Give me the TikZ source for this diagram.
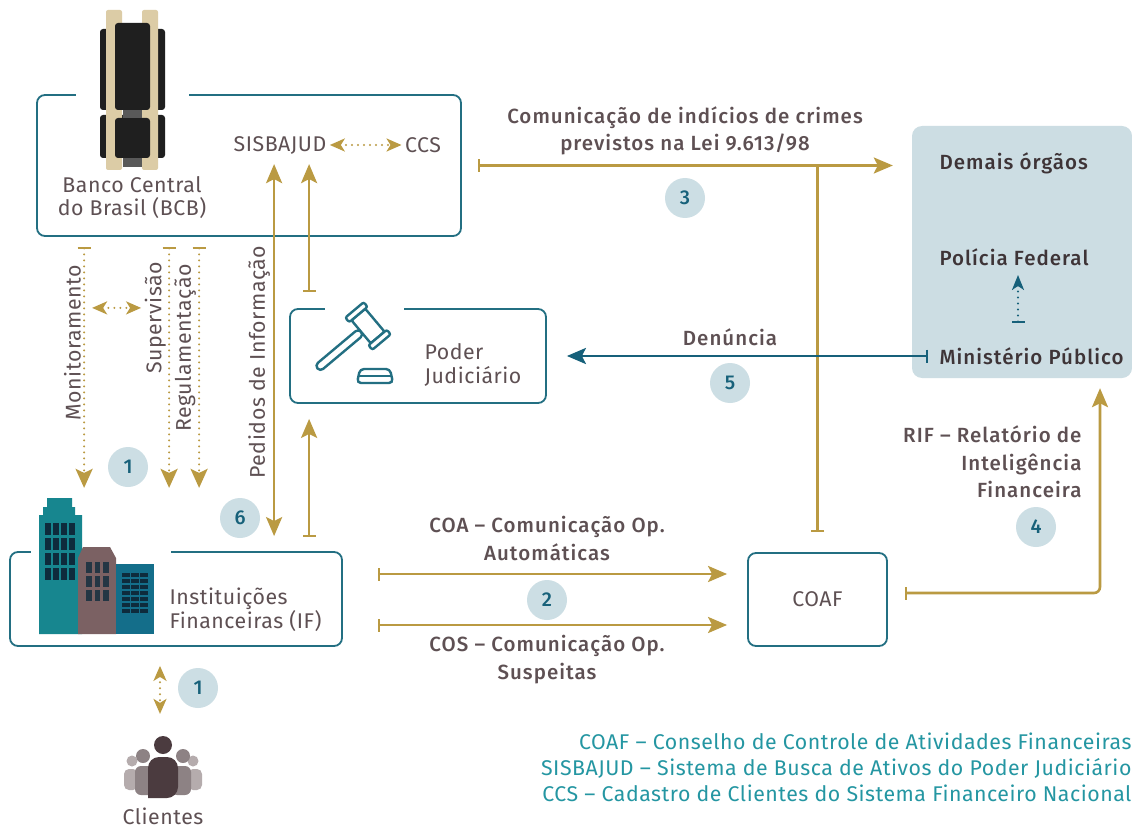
\documentclass[tikz,border=0pt]{standalone}
\usepackage{fontspec}
\setmainfont{Fira Sans}[LetterSpace=2.5, BoldFont={Fira Sans Medium}, BoldFeatures={LetterSpace=5}]
\usetikzlibrary{arrows.meta}
\usetikzlibrary{calc}

\definecolor{gold}{HTML}{BA9A42}
\definecolor{boxteal}{HTML}{236F82}
\definecolor{txt}{HTML}{5E5053}
\definecolor{dark}{HTML}{3E3437}
\definecolor{badgebg}{HTML}{CCDEE4}
\definecolor{badgefg}{HTML}{17617A}
\definecolor{panel}{HTML}{CCDDE3}
\definecolor{legend}{HTML}{2496A2}
\definecolor{arrowteal}{HTML}{16607A}
\definecolor{tanbar}{HTML}{DCCCA6}
\definecolor{towerteal}{HTML}{17868F}
\definecolor{towerbrown}{HTML}{7B6163}
\definecolor{towerblue}{HTML}{146E8A}
\definecolor{window}{HTML}{0E2B3C}
\definecolor{pdark}{HTML}{4B3B3F}
\definecolor{pmid}{HTML}{8D8284}
\definecolor{plight}{HTML}{B5ACAD}

\newcommand\regfont{\fontsize{21.3}{23.5}\selectfont}
\newcommand\labfont{\bfseries\fontsize{20.5}{27.5}\selectfont}

\tikzset{
  box/.style={draw=boxteal, line width=1.8pt, rounded corners=8pt, fill=white, inner sep=0pt},
  flow/.style={draw=gold, line width=2.6pt,
    arrows={Bar[width=13pt,line width=2pt]-Stealth[length=19pt,width=16pt,inset=4pt]}},
  both/.style={draw=gold, line width=2.6pt,
    arrows={Stealth[length=19pt,width=16pt,inset=4pt]-Stealth[length=19pt,width=16pt,inset=4pt]}},
  barline/.style={draw=gold, line width=2.6pt, arrows={Bar[width=13pt,line width=2pt]-}},
  dotflow/.style={draw=gold, line width=2.2pt, line cap=round, dash pattern=on 0pt off 6pt,
    arrows={Bar[width=13pt,line width=2pt]-Stealth[length=19pt,width=17pt,inset=4pt]}},
  dotboth/.style={draw=gold, line width=2.2pt, line cap=round, dash pattern=on 0pt off 6pt,
    arrows={Stealth[length=15pt,width=13pt,inset=4pt]-Stealth[length=15pt,width=13pt,inset=4pt]}},
  badge/.style={circle, fill=badgebg, text=badgefg, font=\bfseries\fontsize{20}{20}\selectfont,
    minimum size=40pt, inner sep=0pt},
  icon/.style={draw=boxteal, line width=2.4pt, fill=white, rounded corners=2pt},
  vlabel/.style={rotate=90, anchor=south, inner sep=2pt},
}

\begin{document}
\begin{tikzpicture}[x=1pt,y=-1pt, every node/.style={text=txt, font=\regfont}]
\useasboundingbox (0,0) rectangle (1132,829);
\fill[white] (0,0) rectangle (1132,829);

% boxes
\node[box, minimum width=424pt, minimum height=141pt] (bcb) at (249,165.5) {};
\node[box, minimum width=256pt, minimum height=94pt] (pj) at (418,356) {};
\node[box, minimum width=332pt, minimum height=94pt] (ifi) at (176,599) {};
\node[box, minimum width=139pt, minimum height=93pt] (coaf) at (817.5,599.5) {COAF};
\node[fill=panel, rounded corners=10pt, minimum width=220pt, minimum height=252pt, inner sep=0pt] (orgs) at (1022,252) {};

\draw[white, line width=4pt] ($(bcb.north west)+(40,0)$) -- ($(bcb.north west)+(153,0)$);
\draw[white, line width=4pt] ($(pj.north west)+(36,0)$) -- ($(pj.north west)+(115,0)$);
\draw[white, line width=4pt] ($(ifi.north west)+(22,0)$) -- ($(ifi.north west)+(162,0)$);

% texts
\node[align=center] (bcbtxt) at (132,197.5) {Banco Central\\do Brasil (BCB)};
\node (sisbajud) at (280,145) {SISBAJUD};
\node (ccs) at (423,145) {CCS};
\node[align=left, anchor=west] (pjtxt) at (421,365) {Poder\\Judiciário};
\node[align=left, anchor=west] (iftxt) at (166,609.5) {Instituições\\Financeiras (IF)};
\node[inner sep=1pt] (cli) at (163,816) {Clientes};
\node[anchor=west, font=\labfont, text=dark] (demais) at (936,163) {Demais órgãos};
\node[anchor=west, font=\labfont, text=dark] (pf) at (936,257) {Polícia Federal};
\node[anchor=west, font=\labfont, text=dark] (mp) at (936,356) {Ministério Público};

\node[font=\labfont, align=center] (l3) at (685,131) {Comunicação de indícios de crimes\\previstos na Lei 9.613/98};
\node[font=\labfont] (l5) at (730,337) {Denúncia};
\node[font=\labfont, align=center] (l2a) at (547,538.5) {COA – Comunicação Op.\\Automáticas};
\node[font=\labfont, align=center] (l2b) at (547,659.5) {COS – Comunicação Op.\\Suspeitas};
\node[font=\labfont, align=right, anchor=east] (l4) at (1085,462) {RIF – Relatório de\\Inteligência\\Financeira};
\node[anchor=east, align=right, text=legend, font=\fontsize{21.3}{26}\selectfont] (leg) at (1135,767)
  {COAF – Conselho de Controle de Atividades Financeiras\\SISBAJUD – Sistema de Busca de Ativos do Poder Judiciário\\CCS – Cadastro de Clientes do Sistema Financeiro Nacional};

% connectors
\foreach \dx/\nm in {48/mon,133/sup,163/reg}
  \draw[dotflow] ($(bcb.south west)+(\dx,10)$) coordinate (\nm) -- ++(0,241);
\node[vlabel] at ($(mon)+(-1,96)$) {Monitoramento};
\node[vlabel] at ($(sup)+(-1,71)$) {Supervisão};
\node[vlabel] at ($(reg)+(-1,101)$) {Regulamentação};
\draw[dotboth] ($(mon)+(8,61)$) -- ($(sup)+(-28,61)$);
\draw[dotboth] (sisbajud) -- (ccs);

\draw[both] ($(bcb.north west)+(238,70)$) coordinate (ped) -- ($(ifi.north west)+(265,-15)$);
\node[vlabel] at ($(ped)+(-2,198)$) {Pedidos de Informação};
\draw[flow] ($(pj.north west)+(20,-16)$) -- ($(bcb.north west)+(273,70)$);
\draw[flow] ($(ifi.north west)+(300,-14)$) -- ($(pj.south west)+(20,15)$);

\draw[flow] ($(bcb.east)+(16,0)$) -- ($(orgs.west |- bcb.east)+(-19,0)$);
\draw[barline] ($(coaf.north)+(0,-20)$) -- (coaf.north |- bcb.east);
\draw[draw=arrowteal, line width=2.6pt,
  arrows={Bar[width=13pt,line width=2pt]-Stealth[length=19pt,width=16pt,inset=4pt]}]
  ($(mp.west)+(-8,0)$) -- ($(pj.east)+(20,0)$);
\draw[draw=arrowteal, line width=2.2pt, line cap=round, dash pattern=on 0pt off 6pt,
  arrows={Bar[width=13pt,line width=2pt]-Stealth[length=15pt,width=12pt,inset=4pt]}]
  ($(pf.west)+(82,66)$) -- ($(pf.west)+(82,18)$);

\draw[flow] ($(ifi.east)+(35,-25)$) -- ($(coaf.west)+(-20,-25.5)$);
\draw[flow] ($(ifi.east)+(35,26)$) -- ($(coaf.west)+(-20,25.5)$);
\draw[flow, rounded corners=6pt] ($(coaf.east)+(17,-6.5)$) -| ($(orgs.south)+(78,10)$);
\draw[dotboth] ($(ifi.south)+(-16,19)$) -- ($(ifi.south)+(-16,67)$);

% badges
\begin{scope}[every node/.style={badge}]
  \node (b1) at (128,467) {1};
  \node (b6) at (240,518) {6};
  \node (b3) at (685,198) {3};
  \node (b5) at (730,383) {5};
  \node (b2) at (547,600) {2};
  \node (b4) at (1036,527) {4};
  \node (b1c) at (198,688) {1};
\end{scope}

% bcb icon
\fill[black!88, rounded corners=3pt] (100,29) rectangle (165,110);
\fill[black!88, rounded corners=3pt] (100,115) rectangle (165,158);
\fill[tanbar, rounded corners=2pt] (106,10) rectangle (122,170);
\fill[tanbar, rounded corners=2pt] (142,10) rectangle (158,170);
\fill[black!88, rounded corners=3pt] (115,23) rectangle (150,110);
\fill[black!88, rounded corners=3pt] (115,118) rectangle (150,158);
\fill[black!65] (123,110) rectangle (142,118);
\fill[black!65] (123,158) rectangle (142,167);

% gavel
\begin{scope}[shift={(368,326)}, rotate=-50]
  \draw[icon, rounded corners=4pt] (-4,9) rectangle (4,66);
  \draw[icon] (-15,-9) rectangle (15,9);
  \draw[icon] (-21,-12) rectangle (-15,12);
  \draw[icon] (15,-12) rectangle (21,12);
\end{scope}
\draw[icon, rounded corners=4pt] (357,383) -- (360,369) -- (390,369) -- (393,383) -- cycle;
\draw[draw=boxteal, line width=2.4pt] (359,376) -- (391,376);

% buildings
\fill[towerteal] (47,498) -- (72,498) -- (72,507) -- (75,507) -- (75,515) -- (82,515)
  -- (82,634) -- (39,634) -- (39,515) -- (43,515) -- (43,507) -- (47,507) -- cycle;
\foreach \x in {45,53,61,69}
  \foreach \y in {523,538,553,568}
    \fill[window] (\x,\y) rectangle ++(5.5,12);
\fill[towerbrown] (83,547) -- (110,547) -- (116,558) -- (116,634) -- (78,634) -- (78,558) -- cycle;
\foreach \x in {86,94.5,103}
  \foreach \y in {562,576,590}
    \fill[window!80!towerbrown] (\x,\y) rectangle ++(5.5,11);
\fill[towerblue] (116,564) rectangle (154,634);
\foreach \y in {0,...,6}
  \foreach \x in {122,131,140}
    \fill[window] (\x,573+6*\y) rectangle ++(8,3.6);

% people
\fill[plight] (132,761) circle (5.5);
\fill[plight] (193,761) circle (5.5);
\fill[plight, rounded corners=5pt] (124,769) rectangle (138,790);
\fill[plight, rounded corners=5pt] (188,769) rectangle (202,790);
\fill[pmid] (143,756) circle (7);
\fill[pmid] (183,756) circle (7);
\fill[pmid, rounded corners=6pt] (135,766) rectangle (155,795);
\fill[pmid, rounded corners=6pt] (171,766) rectangle (191,795);
\fill[white] (163,745) circle (10.5);
\fill[pdark] (163,745) circle (9);
\fill[pdark, rounded corners=11pt] (148,757) -- (178,757) -- (178,798) [sharp corners] -- (148,798) [rounded corners=11pt] -- cycle;

\end{tikzpicture}
\end{document}
